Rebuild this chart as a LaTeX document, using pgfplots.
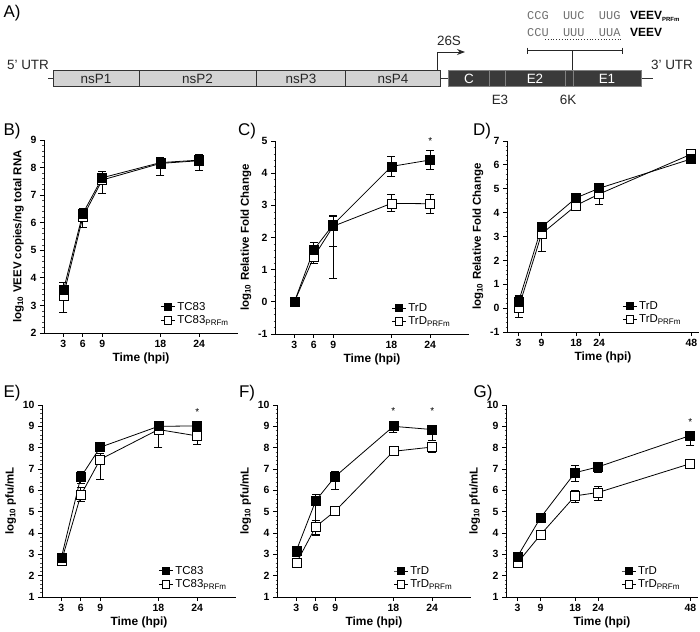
\documentclass[border=0pt]{standalone}
\usepackage{pgfplots}
\pgfplotsset{compat=1.18}
\usepackage{pgfplotstable}
\usepackage{fontspec}
\setmainfont{Liberation Sans}
\newfontfamily\monofont{Liberation Mono}
\usetikzlibrary{arrows.meta}

\definecolor{lightbar}{HTML}{D3D3D3}
\definecolor{darkbar}{HTML}{3A3A3A}
\definecolor{darkedge}{HTML}{808080}
\definecolor{codon}{HTML}{707070}

\pgfplotstableread{
x y ep em
3 3.55 0.30 0.30
6 6.33 0.20 0.20
9 7.63 0.24 0.20
18 8.18 0.20 0.15
24 8.27 0.19 0.15
}\Bone
\pgfplotstableread{
x y ep em
3 3.35 0.20 0.60
6 6.20 0.20 0.38
9 7.55 0.20 0.48
18 8.15 0.20 0.42
24 8.25 0.15 0.37
}\Btwo
\pgfplotstableread{
x y ep em
3 0.00 0.05 0.05
6 1.62 0.22 0.20
9 2.40 0.28 0.68
18 4.21 0.30 0.30
24 4.41 0.31 0.30
}\Cone
\pgfplotstableread{
x y ep em
3 0.00 0.05 0.05
6 1.40 0.20 0.20
9 2.35 0.30 1.62
18 3.06 0.28 0.25
24 3.05 0.28 0.30
}\Ctwo
\pgfplotstableread{
x y ep em
3 0.26 0.27 0.20
9 3.39 0.18 0.20
18 4.62 0.15 0.15
24 5.02 0.22 0.20
48 6.25 0.12 0.20
}\Done
\pgfplotstableread{
x y ep em
3 0.00 0.50 0.39
9 3.11 0.20 0.75
18 4.30 0.15 0.15
24 4.78 0.20 0.45
48 6.45 0.12 0.15
}\Dtwo
\pgfplotstableread{
x y ep em
3 2.85 0.15 0.15
6 6.62 0.28 0.30
9 8.02 0.10 0.10
18 9.00 0.10 0.10
24 9.02 0.10 0.10
}\Eone
\pgfplotstableread{
x y ep em
3 2.68 0.10 0.14
6 5.77 0.35 0.30
9 7.45 0.30 0.95
18 8.85 0.15 0.82
24 8.55 0.30 0.38
}\Etwo
\pgfplotstableread{
x y ep em
3 3.18 0.10 0.30
6 5.52 0.28 1.60
9 6.65 0.25 0.62
18 9.00 0.10 0.28
24 8.85 0.20 0.50
}\Fone
\pgfplotstableread{
x y ep em
3 2.60 0.10 0.10
6 4.30 0.30 0.40
9 5.03 0.10 0.10
18 7.83 0.10 0.10
24 8.03 0.23 0.23
}\Ftwo
\pgfplotstableread{
x y ep em
3 2.90 0.10 0.10
9 4.72 0.10 0.10
18 6.83 0.34 0.43
24 7.10 0.18 0.25
48 8.57 0.15 0.45
}\Gone
\pgfplotstableread{
x y ep em
3 2.60 0.10 0.10
9 3.92 0.10 0.10
18 5.74 0.26 0.30
24 5.90 0.27 0.35
48 7.25 0.17 0.20
}\Gtwo

\pgfplotsset{
  prism/.style={
    scale only axis, width=194bp, height=193bp,
    axis x line*=bottom, axis y line*=left,
    axis line style={line width=0.9pt,-},
    tick align=outside, major tick length=4bp,
    minor y tick num=4, minor tick length=1.5bp,
    tick style={line width=0.9pt,black},
    minor tick style={line width=0.5pt,black!70},
    xmin=0, xmax=30, xtick={3,6,9,18,24},
    /pgf/number format/assume math mode=true,
    tick label style={font=\bfseries\fontsize{10.5}{12}\selectfont},
    label style={font=\bfseries\fontsize{11.5}{13}\selectfont},
    xlabel={Time (hpi)},
    xlabel style={font=\bfseries\fontsize{12}{13}\selectfont, yshift=2bp},
    clip=false,
    legend image code/.code={\draw[mark repeat=2,mark phase=2] plot coordinates {(0bp,0bp)(7bp,0bp)(14bp,0bp)};},
    legend style={at={(0.6,0.03)}, anchor=south west, draw=none, fill=none,
      font=\fontsize{11.5}{11.5}\selectfont, row sep=0bp, inner sep=0pt,
      cells={anchor=west}},
  },
  ebar/.style={
    /pgfplots/error bars/y dir=both, /pgfplots/error bars/y explicit,
    /pgfplots/error bars/error bar style={line width=0.8pt, black},
    /pgfplots/error bars/error mark options={rotate=90, mark size=4bp, line width=0.8pt, black}},
  sfill/.style={black, line width=0.8pt, mark=square*, mark size=4.5bp,
    mark options={fill=black, solid}, ebar},
  sopen/.style={black, line width=0.8pt, mark=square*, mark size=4.5bp,
    mark options={fill=white, solid}, ebar},
  lfill/.style={black, line width=0.8pt, mark=square*, mark size=3.8bp, mark options={fill=black}},
  lopen/.style={black, line width=0.8pt, mark=square*, mark size=3.8bp, mark options={fill=white}},
}

\begin{document}
\begin{tikzpicture}
\path[use as bounding box] (0,0) rectangle (700bp,-632bp);

% ---------- genome diagram ----------
\begin{scope}[x=1bp,y=-1bp]
\node[font=\fontsize{17}{17}\selectfont] at (12,13) {A)};
\node[font=\fontsize{17}{17}\selectfont] at (12,131) {B)};
\node[font=\fontsize{17}{17}\selectfont] at (247,131) {C)};
\node[font=\fontsize{17}{17}\selectfont] at (482,131) {D)};
\node[font=\fontsize{17}{17}\selectfont] at (12,393) {E)};
\node[font=\fontsize{17}{17}\selectfont] at (247,393) {F)};
\node[font=\fontsize{17}{17}\selectfont] at (483,393) {G)};

\draw[line width=1pt, black!80] (48,78) -- (53,78);
\draw[line width=1pt, black!80] (440.7,78) -- (448.3,78);
\draw[line width=1pt, black!80] (641.7,78) -- (652.7,78);
\draw[fill=lightbar, draw=black!80, line width=1pt] (53,70) rectangle (440.7,86);
\foreach \xx in {139,256,345.7} \draw[black!80, line width=1pt] (\xx,70) -- (\xx,86);
\begin{scope}[font=\fontsize{13.5}{14}\selectfont, text=black!85]
\node at (96,78.5) {nsP1};
\node at (197.5,78.5) {nsP2};
\node at (301,78.5) {nsP3};
\node at (393,78.5) {nsP4};
\end{scope}
\draw[fill=darkbar, draw=darkedge, line width=1pt] (448.3,70) rectangle (641.7,86);
\foreach \xx in {489.3,505,565,573.3} \draw[darkedge, line width=0.8pt] (\xx,70.5) -- (\xx,85.5);
\begin{scope}[font=\fontsize{13.5}{14}\selectfont, text=white]
\node at (469,78.5) {C};
\node at (535,78.5) {E2};
\node at (607,78.5) {E1};
\end{scope}
\begin{scope}[font=\fontsize{13.5}{14}\selectfont, text=black!85]
\node at (28,65) {5' UTR};
\node at (672,65) {3' UTR};
\node at (500,100) {E3};
\node at (568,100) {6K};
\node at (449,41) {26S};
\end{scope}
\draw[line width=1pt, black!85, -{Stealth[length=8bp,width=6bp]}] (437.3,70) -- (437.3,52) -- (465,52);
% bracket
\draw[line width=1pt, black!85] (527.7,50.7) -- (622.7,50.7);
\draw[line width=1pt, black!85] (527.7,47.7) -- (527.7,53.7);
\draw[line width=1pt, black!85] (622.7,47.7) -- (622.7,53.7);
\draw[line width=1pt, black!85] (572.3,50.7) -- (572.3,70);
% codons
\node[anchor=west, inner sep=0, font=\monofont\fontsize{12}{12}\selectfont, text=codon] at (527,16) {CCG\ \ UUC\ \ UUG};
\node[anchor=west, inner sep=0, font=\monofont\fontsize{12}{12}\selectfont, text=codon] at (527,32.5) {CCU\ \ UUU\ \ UUA};
\draw[dotted, line width=0.8pt, black!80] (545,39.5) -- (622,39.5);
\node[anchor=west, inner sep=0, font=\bfseries\fontsize{12}{12}\selectfont] at (630,16) {VEEV\textsubscript{\fontsize{6}{6}\selectfont PRFm}};
\node[anchor=west, inner sep=0, font=\bfseries\fontsize{12}{12}\selectfont] at (630,32.5) {VEEV};
\end{scope}

% ---------- B ----------
\begin{axis}[prism, at={(44bp,-140bp)}, anchor=north west,
  ymin=2, ymax=9, ytick={2,...,9},
  ylabel={log\textsubscript{10} VEEV copies/ng total RNA}]
\addlegendimage{lfill}\addlegendentry{TC83}
\addlegendimage{lopen}\addlegendentry{TC83\textsubscript{PRFm}}
\addplot[forget plot, sopen] table[x=x,y=y,y error plus=ep,y error minus=em] {\Btwo};
\addplot[forget plot, sfill] table[x=x,y=y,y error plus=ep,y error minus=em] {\Bone};
\end{axis}

% ---------- C ----------
\begin{axis}[prism, at={(275bp,-141bp)}, anchor=north west,
  ymin=-1, ymax=5, ytick={-1,...,5},
  ylabel={log\textsubscript{10} Relative Fold Change}]
\addlegendimage{lfill}\addlegendentry{TrD}
\addlegendimage{lopen}\addlegendentry{TrD\textsubscript{PRFm}}
\addplot[forget plot, sopen] table[x=x,y=y,y error plus=ep,y error minus=em] {\Ctwo};
\addplot[forget plot, sfill] table[x=x,y=y,y error plus=ep,y error minus=em] {\Cone};
\node[font=\fontsize{10}{10}\selectfont] at (axis cs:24,5.0) {*};
\end{axis}

% ---------- D ----------
\begin{axis}[prism, at={(507bp,-141bp)}, anchor=north west, width=192bp, height=191bp,
  xmin=0, xmax=50, xtick={3,9,18,24,48},
  ymin=-1, ymax=7, ytick={-1,...,7},
  ylabel={log\textsubscript{10} Relative Fold Change}]
\addlegendimage{lfill}\addlegendentry{TrD}
\addlegendimage{lopen}\addlegendentry{TrD\textsubscript{PRFm}}
\addplot[forget plot, sopen] table[x=x,y=y,y error plus=ep,y error minus=em] {\Dtwo};
\addplot[forget plot, sfill] table[x=x,y=y,y error plus=ep,y error minus=em] {\Done};
\end{axis}

% ---------- E ----------
\begin{axis}[prism, at={(42bp,-405bp)}, anchor=north west, height=192bp,
  ymin=1, ymax=10, ytick={1,...,10},
  ylabel={log\textsubscript{10} pfu/mL}]
\addlegendimage{lfill}\addlegendentry{TC83}
\addlegendimage{lopen}\addlegendentry{TC83\textsubscript{PRFm}}
\addplot[forget plot, sopen] table[x=x,y=y,y error plus=ep,y error minus=em] {\Etwo};
\addplot[forget plot, sfill] table[x=x,y=y,y error plus=ep,y error minus=em] {\Eone};
\node[font=\fontsize{10}{10}\selectfont] at (axis cs:24,9.65) {*};
\end{axis}

% ---------- F ----------
\begin{axis}[prism, at={(277bp,-405bp)}, anchor=north west, height=192bp,
  ymin=1, ymax=10, ytick={1,...,10},
  ylabel={log\textsubscript{10} pfu/mL}]
\addlegendimage{lfill}\addlegendentry{TrD}
\addlegendimage{lopen}\addlegendentry{TrD\textsubscript{PRFm}}
\addplot[forget plot, sopen] table[x=x,y=y,y error plus=ep,y error minus=em] {\Ftwo};
\addplot[forget plot, sfill] table[x=x,y=y,y error plus=ep,y error minus=em] {\Fone};
\node[font=\fontsize{10}{10}\selectfont] at (axis cs:18,9.7) {*};
\node[font=\fontsize{10}{10}\selectfont] at (axis cs:24,9.7) {*};
\end{axis}

% ---------- G ----------
\begin{axis}[prism, at={(506bp,-405bp)}, anchor=north west, width=192bp, height=192bp,
  xmin=0, xmax=50, xtick={3,9,18,24,48},
  ymin=1, ymax=10, ytick={1,...,10},
  ylabel={log\textsubscript{10} pfu/mL}]
\addlegendimage{lfill}\addlegendentry{TrD}
\addlegendimage{lopen}\addlegendentry{TrD\textsubscript{PRFm}}
\addplot[forget plot, sopen] table[x=x,y=y,y error plus=ep,y error minus=em] {\Gtwo};
\addplot[forget plot, sfill] table[x=x,y=y,y error plus=ep,y error minus=em] {\Gone};
\node[font=\fontsize{10}{10}\selectfont] at (axis cs:48,9.2) {*};
\end{axis}
\end{tikzpicture}
\end{document}
